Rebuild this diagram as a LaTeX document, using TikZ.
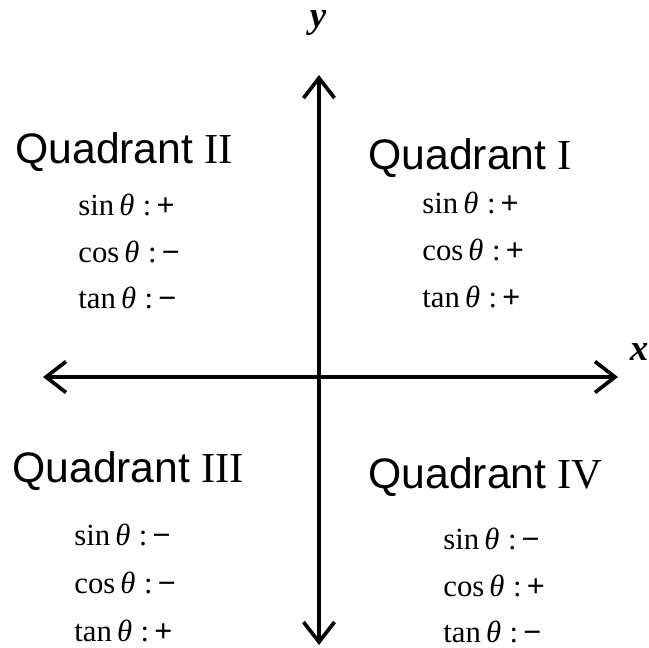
\documentclass[tikz,border=0pt]{standalone}
\usepackage{fontspec}
\setmainfont{Liberation Serif}
\newfontfamily\quadsans{Liberation Sans}
\usetikzlibrary{arrows.meta}

\tikzset{
  axis/.style={line width=2.1pt, {Straight Barb[length=0.4cm, width=0.62cm, line width=2.1pt]}-{Straight Barb[length=0.4cm, width=0.62cm, line width=2.1pt]}},
  quadname/.style={anchor=base west, inner sep=0pt, font=\fontsize{24.3}{29}\selectfont},
  signline/.style={anchor=base west, inner sep=0pt, font=\fontsize{17.5}{21}\selectfont},
  axlabel/.style={inner sep=0pt, font=\fontsize{21}{24}\selectfont\bfseries\itshape}
}
\newcommand{\trig}[2]{#1\,\textit{θ}\;:\,{\quadsans #2}}

\begin{document}
\begin{tikzpicture}[x=0.02cm, y=-0.02cm]
        \useasboundingbox (0,0) rectangle (649,647);
        % Axis ends
        \coordinate (top) at (319,75);
        \coordinate (bottom) at (319,645);
        \coordinate (left) at (43,377);
        \coordinate (right) at (618,377);
        \node (ylab) [axlabel] at (318,23) {y};
        \node (xlab) [axlabel] at (639,352) {x};

        % Quadrant names
        \node (q1) [quadname] at (368,169) {{\quadsans Quadrant} I};
        \node (q2) [quadname] at (15,163) {{\quadsans Quadrant} II};
        \node (q3) [quadname] at (12,482) {{\quadsans Quadrant} III};
        \node (q4) [quadname] at (368,488) {{\quadsans Quadrant} IV};

        % Signs
        \node (s1) [signline] at (422,213) {\trig{sin}{+}};
        \node (c1) [signline] at (422,260) {\trig{cos}{+}};
        \node (t1) [signline] at (422,307) {\trig{tan}{+}};
        \node (s2) [signline] at (78,215) {\trig{sin}{+}};
        \node (c2) [signline] at (78,262) {\trig{cos}{−}};
        \node (t2) [signline] at (78,308) {\trig{tan}{−}};
        \node (s3) [signline] at (74,545) {\trig{sin}{−}};
        \node (c3) [signline] at (74,593) {\trig{cos}{−}};
        \node (t3) [signline] at (74,641) {\trig{tan}{+}};
        \node (s4) [signline] at (443,549) {\trig{sin}{−}};
        \node (c4) [signline] at (443,596) {\trig{cos}{+}};
        \node (t4) [signline] at (443,642) {\trig{tan}{−}};

        % Axes
        \draw[axis] (bottom) -- (top);
        \draw[axis] (left) -- (right);
    \end{tikzpicture}
\end{document}
